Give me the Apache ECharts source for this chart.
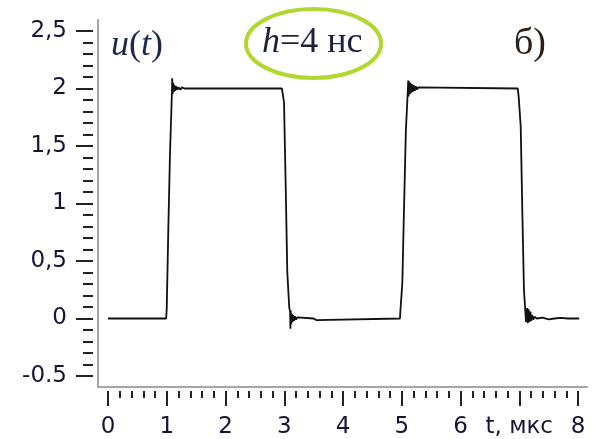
<!DOCTYPE html>
<html>
<head>
<meta charset="utf-8">
<script src="https://cdn.jsdelivr.net/npm/echarts@6/dist/echarts.min.js"></script>
<style>
html,body{margin:0;padding:0;background:#fff;}
#chart{width:594px;height:439px;}
</style>
</head>
<body>
<div id="chart"></div>
<script>
// ---- data ----
const xTickLabels = ['0', '1', '2', '3', '4', '5', '6', 't, мкс', '8'];
const yTickLabels = ['-0.5', '0', '0,5', '1', '1,5', '2', '2,5'];

// time, µs
const tValues = [
  0, 0.99, 1.0, 1.026, 1.055, 1.09, 1.093, 1.1, 1.11, 1.12, 1.13, 1.145, 1.16, 1.18, 1.2, 1.23, 1.26, 1.3,
  1.5, 1.52, 1.53, 2.96, 2.975, 2.996, 3.025, 3.052, 3.086, 3.1, 3.105, 3.11, 3.12, 3.13, 3.14, 3.15, 3.165,
  3.18, 3.2, 3.22, 3.25, 3.5, 3.53, 3.55, 3.57, 4.97, 4.975, 5.01, 5.04, 5.07, 5.105, 5.11, 5.115, 5.125,
  5.135, 5.145, 5.155, 5.17, 5.185, 5.2, 5.22, 5.24, 5.26, 5.28, 5.3, 6.975, 6.99, 7.025, 7.05, 7.08, 7.115,
  7.12, 7.135, 7.145, 7.16, 7.175, 7.19, 7.205, 7.22, 7.24, 7.26, 7.3, 7.4, 7.5, 7.6, 7.61, 7.62, 7.7, 7.83, 8.02
];
// voltage u(t)
const uValues = [
  0, 0, 0.09, 0.76, 1.43, 2.0, 2.09, 1.95, 2.05, 1.97, 2.03, 1.98, 2.02, 1.99, 2.01, 1.99, 2.01, 2.0,
  2.0, 2.012, 2.0, 2.0, 1.99, 1.88, 1.14, 0.40, 0.09, 0.06, -0.09, 0.07, -0.05, 0.04, -0.03, 0.03, -0.02,
  0.02, -0.01, 0.01, 0, 0, 0.015, -0.015, 0, 0, 0.05, 0.31, 0.99, 1.63, 2.0, 2.07, 1.93, 2.06,
  1.95, 2.05, 1.96, 2.04, 1.97, 2.03, 1.98, 2.02, 1.99, 2.01, 2.0, 2.0, 1.93, 1.67, 0.99, 0.25, -0.03,
  -0.04, 0.09, -0.04, 0.08, -0.03, 0.06, -0.02, 0.03, -0.01, 0.015, 0, 0.008, -0.008, 0, -0.015, 0, 0.006, 0, 0
];

const signal = tValues.map((t, i) => [t, uValues[i]]);

const chart = echarts.init(document.getElementById('chart'), null, {renderer: 'canvas'});
const labelFont = {fontFamily: 'DejaVu Sans', fontSize: 23, color: '#151535'};
const serif = 'Liberation Serif';

chart.setOption({
  animation: false,
  backgroundColor: '#fff',
  grid: [
    {left: 98, right: 7, top: 20, bottom: 52},
    {left: 108, right: 16, top: 31, bottom: 62.5}
  ],
  xAxis: [
    {gridIndex: 0, type: 'value', min: 0, max: 1,
     axisLine: {show: true, onZero: false, lineStyle: {color: '#a4a4ac', width: 2}},
     axisTick: {show: false}, axisLabel: {show: false}, splitLine: {show: false}},
    {gridIndex: 1, type: 'value', min: 0, max: 8, interval: 1, offset: 15,
     axisLine: {show: false, onZero: false},
     axisTick: {show: true, length: 15, lineStyle: {color: '#222', width: 2}},
     minorTick: {show: true, splitNumber: 5, length: 7, lineStyle: {color: '#222', width: 2}},
     axisLabel: Object.assign({margin: 25, formatter: v => xTickLabels[Math.round(v)]}, labelFont),
     splitLine: {show: false}, minorSplitLine: {show: false}}
  ],
  yAxis: [
    {gridIndex: 0, type: 'value', min: 0, max: 1,
     axisLine: {show: true, onZero: false, lineStyle: {color: '#a4a4ac', width: 2}},
     axisTick: {show: false}, axisLabel: {show: false}, splitLine: {show: false}},
    {gridIndex: 1, type: 'value', min: -0.5, max: 2.5, interval: 0.5, offset: 15,
     axisLine: {show: false, onZero: false},
     axisTick: {show: true, length: 17, lineStyle: {color: '#222', width: 2}},
     minorTick: {show: true, splitNumber: 5, length: 10, lineStyle: {color: '#222', width: 2}},
     axisLabel: Object.assign({margin: 26, formatter: v => yTickLabels[Math.round((v + 0.5) / 0.5)]}, labelFont),
     splitLine: {show: false}, minorSplitLine: {show: false}}
  ],
  series: [{
    type: 'line', xAxisIndex: 1, yAxisIndex: 1, data: signal,
    showSymbol: false, symbol: 'none',
    lineStyle: {color: '#111', width: 1.8}
  }],
  graphic: [
    {type: 'ellipse', shape: {cx: 313.5, cy: 43.5, rx: 67.5, ry: 34.5},
     style: {fill: 'none', stroke: '#b0d830', lineWidth: 4}},
    {type: 'text', left: 111, top: 28,
     style: {text: '{i|u}{n|(}{i|t}{n|)}',
       rich: {
         i: {fontFamily: serif, fontStyle: 'italic', fontSize: 36, fill: '#1c2850'},
         n: {fontFamily: serif, fontSize: 36, fill: '#1c2850'}
       }}},
    {type: 'text', left: 262, top: 25,
     style: {text: '{i|h}{n|=4 нс}',
       rich: {
         i: {fontFamily: serif, fontStyle: 'italic', fontSize: 36, fill: '#1a2040'},
         n: {fontFamily: serif, fontSize: 36, fill: '#1a2040'}
       }}},
    {type: 'text', left: 514, top: 25,
     style: {text: 'б)', fontFamily: serif, fontSize: 38, fill: '#2a2018'}}
  ]
});
</script>
</body>
</html>
